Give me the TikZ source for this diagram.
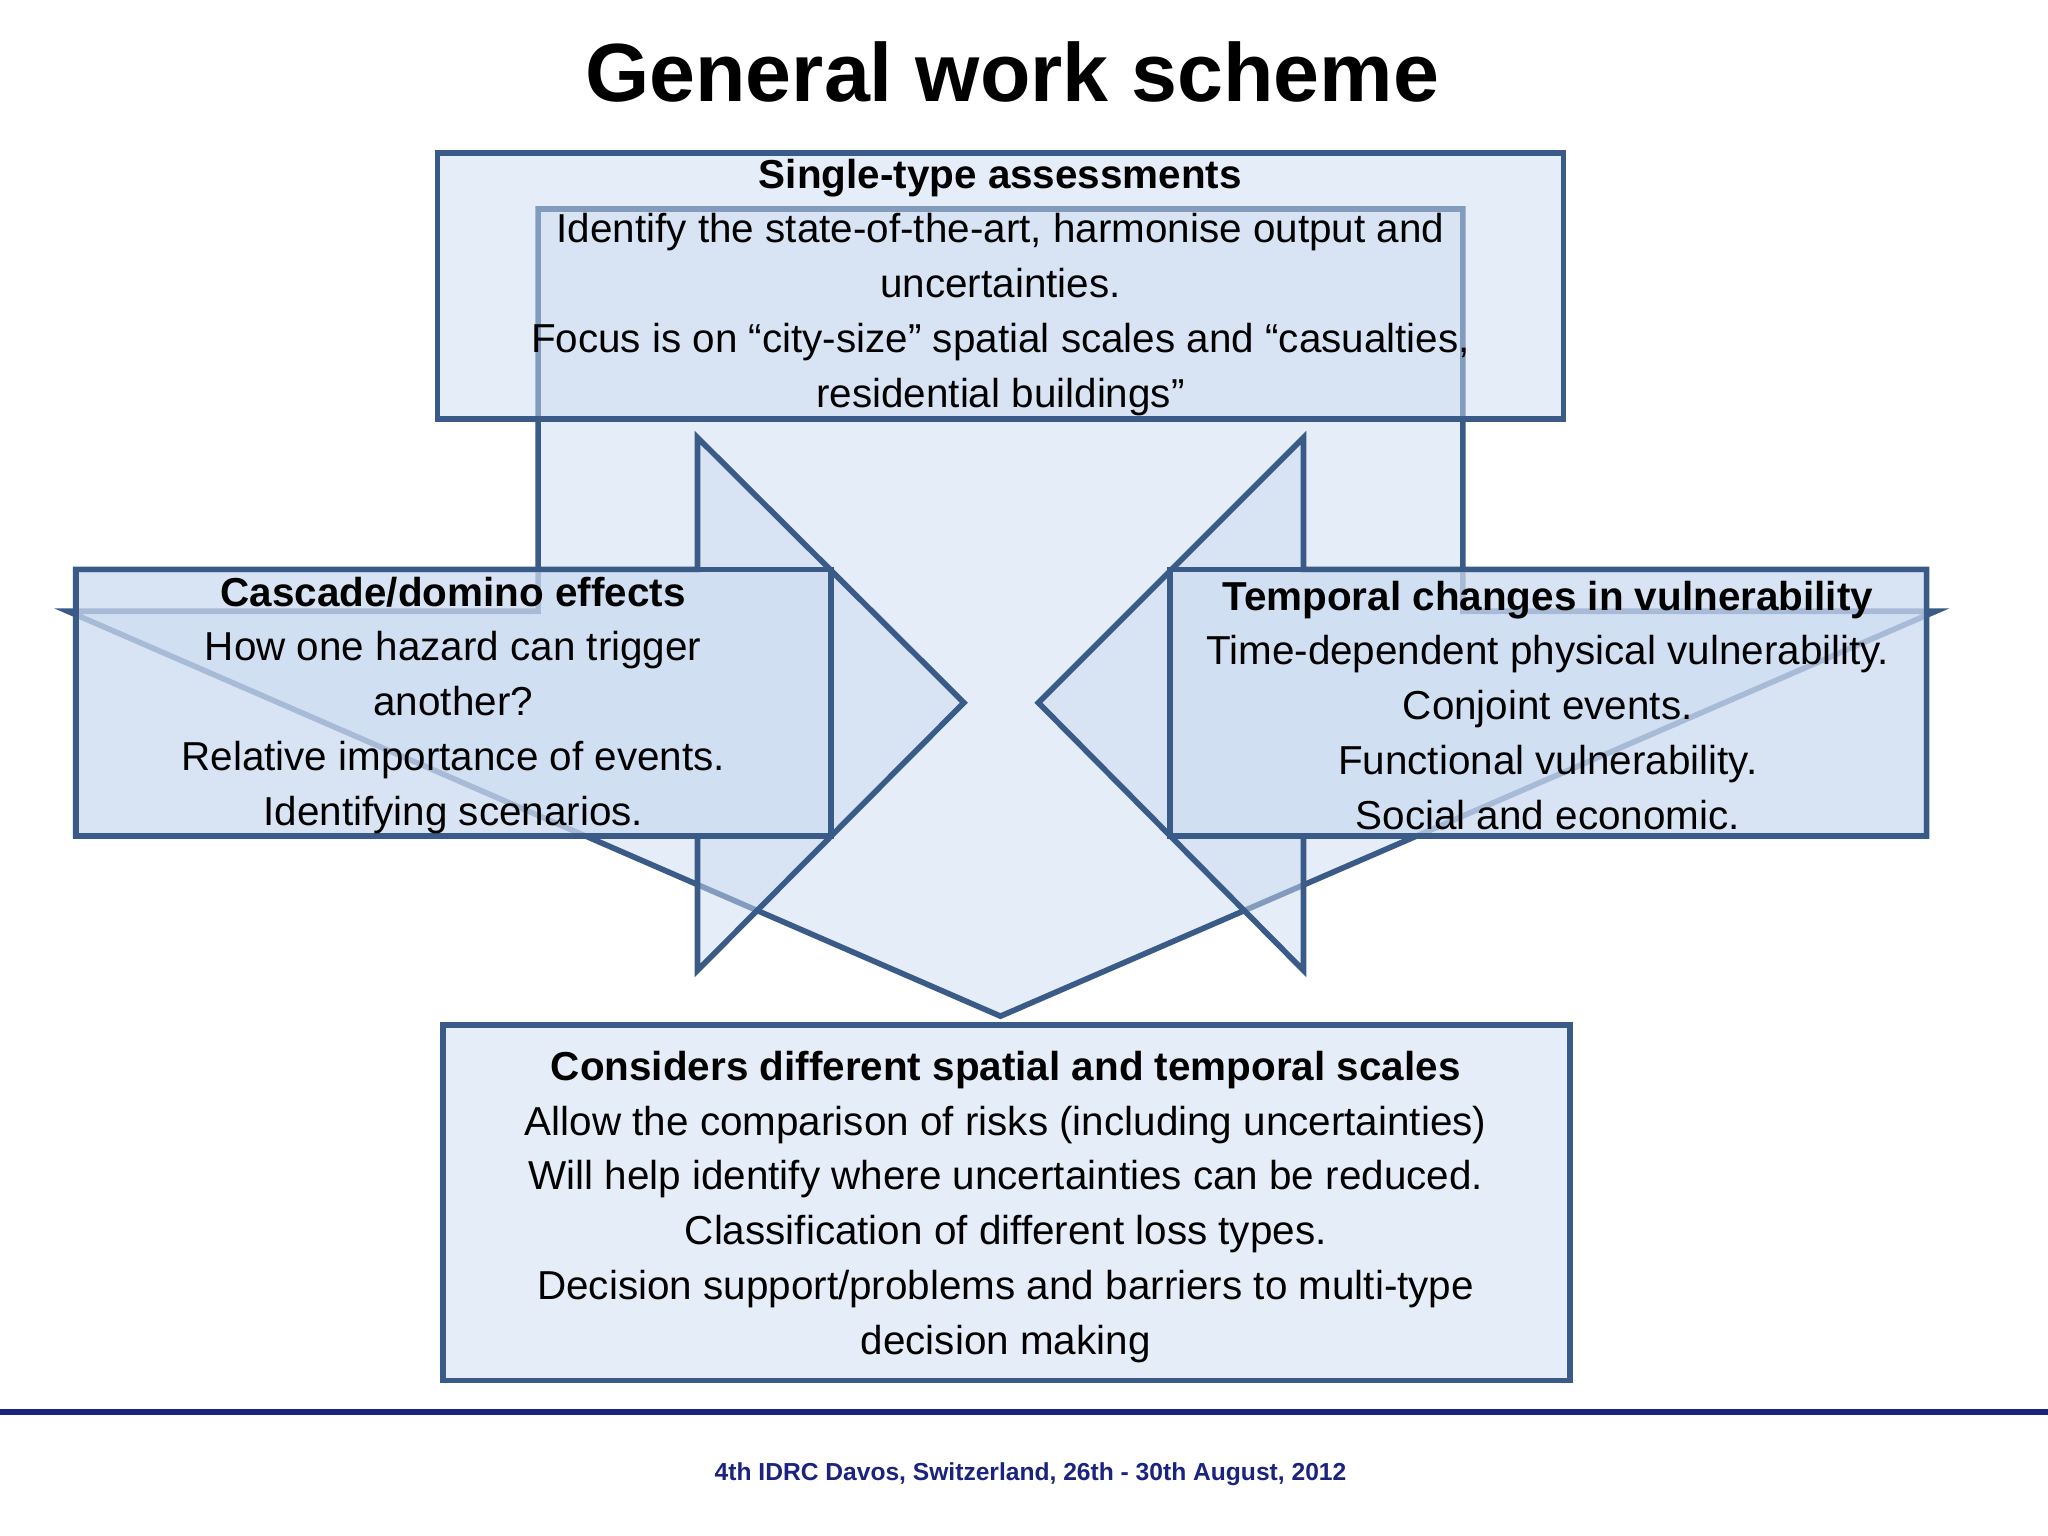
\documentclass[tikz,border=0pt]{standalone}
\usepackage{fontspec}
\setmainfont{Liberation Sans}
\definecolor{edge}{HTML}{3A5A88}
\definecolor{fillc}{HTML}{CCDCF2}
\definecolor{navy}{HTML}{1A237E}
\begin{document}
\begin{tikzpicture}[x=0.013061cm,y=-0.013061cm,
  shp/.style={draw=edge,line width=1.6pt,fill=fillc,fill opacity=0.5,line join=miter},
  body/.style={align=center,font=\fontsize{11.5}{15.6}\selectfont,text opacity=1}]
\useasboundingbox[fill=white] (0,0) rectangle (1568,1176);
\node (title) at (775,55) {\fontsize{23.5}{28}\selectfont\bfseries General work scheme};
% down arrow
\draw[shp] (412,160) -- (1120,160) -- (1120,468) -- (1482,468) -- (766,778) -- (52,468) -- (412,468) -- cycle;
% top box
\draw[shp] (335,117) rectangle (1197,321);
\node[body] (top) at (766,220) {\textbf{Single-type assessments}\\Identify the state-of-the-art, harmonise output and\\uncertainties.\\Focus is on “city-size” spatial scales and “casualties,\\residential buildings”};
% left arrow
\draw[shp] (58,436) -- (534,436) -- (534,335) -- (738,538) -- (534,743) -- (534,640) -- (58,640) -- cycle;
\draw[shp] (58,436) rectangle (636,640);
\node[body] (left) at (347,540) {\textbf{Cascade/domino effects}\\How one hazard can trigger\\another?\\Relative importance of events.\\Identifying scenarios.};
% right arrow
\draw[shp] (1475,436) -- (998,436) -- (998,335) -- (795,538) -- (998,743) -- (998,640) -- (1475,640) -- cycle;
\draw[shp] (896,436) rectangle (1475,640);
\node[body] (right) at (1185,540) {\textbf{Temporal changes in vulnerability}\\Time-dependent physical vulnerability.\\Conjoint events.\\Functional vulnerability.\\Social and economic.};
% bottom box
\draw[shp] (339,785) rectangle (1202,1057);
\node[body] (bottom) at (770,924) {\textbf{Considers different spatial and temporal scales}\\Allow the comparison of risks (including uncertainties)\\Will help identify where uncertainties can be reduced.\\Classification of different loss types.\\Decision support/problems and barriers to multi-type\\decision making};
\draw[navy,line width=1.8pt] (0,1081) -- (1568,1081);
\node[text=navy] (foot) at (789,1129) {\fontsize{7}{9}\selectfont\bfseries 4th IDRC Davos, Switzerland, 26th - 30th August, 2012};
\end{tikzpicture}
\end{document}
